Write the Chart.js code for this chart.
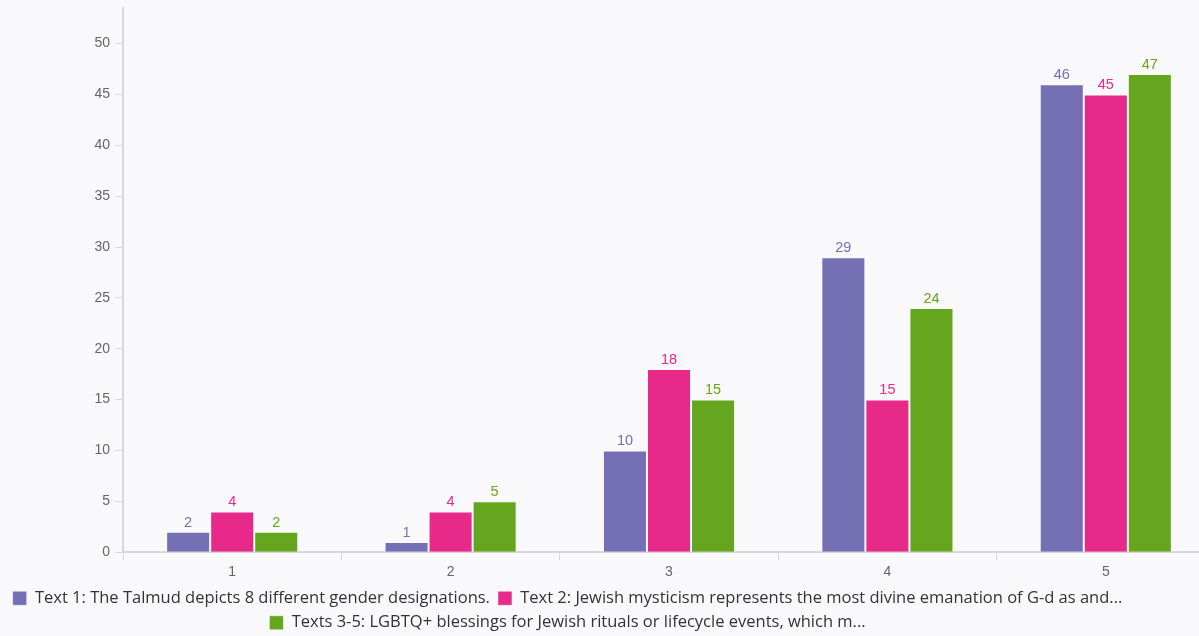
<!DOCTYPE html>
<html>
<head>
<meta charset="utf-8">
<script src="https://cdn.jsdelivr.net/npm/chart.js@4/dist/chart.umd.min.js"></script>
<style>
  html, body { margin: 0; padding: 0; background: #f9f9fb; overflow: hidden; }
  #wrap { width: 1215px; height: 636px; position: relative; }
</style>
</head>
<body>
<div id="wrap"><canvas id="answersChart"></canvas></div>
<script>
// categories on the x axis
const categories = ['1', '2', '3', '4', '5'];

// series names as shown (already shortened) in the legend
const seriesNames = [
    'Text 1: The Talmud depicts 8 different gender designations.',
    'Text 2: Jewish mysticism represents the most divine emanation of G-d as and...',
    'Texts 3-5: LGBTQ+ blessings for Jewish rituals or lifecycle events, which m...'
];

// counts per category
const text1 = [2, 1, 10, 29, 46];
const text2 = [4, 4, 18, 15, 45];
const texts3to5 = [2, 5, 15, 24, 47];

const colors = ['#7570b3', '#e7298a', '#66a61e'];

// small plugin to write the value above every bar
const valueLabels = {
    id: 'valueLabels',
    afterDatasetsDraw(chart) {
        const ctx = chart.ctx;
        ctx.save();
        ctx.font = '14.5px "Liberation Sans", Arial, sans-serif';
        ctx.textAlign = 'center';
        ctx.textBaseline = 'bottom';
        chart.data.datasets.forEach((ds, i) => {
            const meta = chart.getDatasetMeta(i);
            ctx.fillStyle = ds.backgroundColor;
            meta.data.forEach((bar, j) => {
                ctx.fillText(ds.data[j], bar.x, bar.y - 2);
            });
        });
        ctx.restore();
    }
};

// the legend sits a little left of the canvas centre in the original
const legendShift = {
    id: 'legendShift',
    afterLayout(chart) {
        const lg = chart.legend;
        if (!lg) return;
        lg.left -= 40;
        lg.right -= 40;
    }
};

const seriesData = [text1, text2, texts3to5];

const ctx = document.getElementById('answersChart').getContext('2d');
const chart = new Chart(ctx, {
    type: 'bar',
    data: {
        labels: categories,
        datasets: seriesData.map((d, i) => ({
            label: seriesNames[i],
            data: d,
            backgroundColor: colors[i],
            borderColor: 'rgba(255,255,255,0.45)',
            borderWidth: 1,
            categoryPercentage: 0.605,
            barPercentage: 1
        }))
    },
    options: {
        responsive: true,
        maintainAspectRatio: false,
        animation: false,
        layout: { padding: { top: 8, left: 0, right: 0, bottom: -5 } },
        plugins: {
            tooltip: { enabled: false },
            legend: {
                position: 'bottom',
                labels: {
                    boxWidth: 14,
                    boxHeight: 14,
                    padding: 8,
                    color: '#333',
                    font: { family: '"Open Sans", sans-serif', size: 16.5 }
                }
            }
        },
        scales: {
            x: {
                grid: {
                    drawOnChartArea: false,
                    drawTicks: true,
                    tickLength: 8,
                    color: '#d9d9d9'
                },
                border: { color: '#d9d9d9', width: 2 },
                ticks: {
                    color: '#666',
                    padding: 4,
                    font: { family: '"Liberation Sans", Arial, sans-serif', size: 14 }
                },
                afterFit: function (scale) {
                    scale.height -= 3;
                }
            },
            y: {
                min: 0,
                max: 53.5,
                grid: {
                    drawOnChartArea: false,
                    drawTicks: true,
                    tickLength: 8,
                    color: '#d9d9d9'
                },
                border: { color: '#d9d9d9', width: 2 },
                ticks: {
                    stepSize: 5,
                    color: '#666',
                    padding: 5,
                    font: { family: '"Liberation Sans", Arial, sans-serif', size: 14 }
                },
                afterBuildTicks: function (scale) {
                    scale.ticks = scale.ticks.filter(t => t.value % 5 === 0);
                },
                afterFit: function (scale) {
                    scale.width = 123;
                    scale.paddingTop = 0;
                }
            }
        }
    },
    plugins: [valueLabels, legendShift]
});
</script>
</body>
</html>
